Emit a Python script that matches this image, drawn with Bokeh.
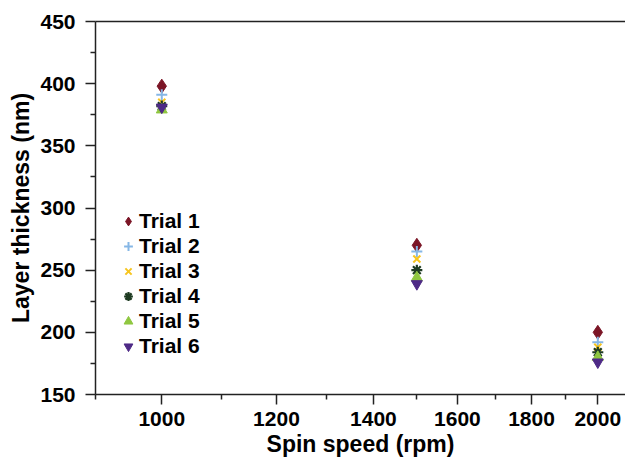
from bokeh.plotting import figure
from bokeh.models import FixedTicker, LogAxis, Range1d, Legend, LegendItem
from bokeh.embed import file_html
from bokeh.resources import INLINE

speeds = [1000, 1500, 2000]
trial1 = [398, 270, 200]
trial2 = [391, 265, 192]
trial3 = [385, 259, 188]
trial4 = [382, 250, 184]
trial5 = [379, 244, 180]
trial6 = [381, 239, 176]

x_major = [1000, 1200, 1400, 1600, 1800, 2000]
x_minor = [900, 1100, 1300, 1500, 1700, 1900]
y_major = [150, 200, 250, 300, 350, 400, 450]
y_minor = [175, 225, 275, 325, 375, 425]

FONT = "Liberation Sans"
TXT = "#000000"

p = figure(width=625, height=465, x_axis_type="log", output_backend="svg",
           toolbar_location=None, x_range=Range1d(900, 2090), y_range=Range1d(150, 450),
           min_border_left=95, min_border_right=0, min_border_top=21, min_border_bottom=71)
p.outline_line_color = None
p.grid.visible = False
p.background_fill_color = "white"
p.border_fill_color = "white"

xa = p.below[0]
ya = p.left[0]

# top frame line
top = LogAxis(ticker=FixedTicker(ticks=[]), major_label_text_font_size="0px",
              axis_line_color="#222222", axis_line_width=1.5,
              major_tick_out=0, minor_tick_out=0)
p.add_layout(top, "above")

xa.ticker = FixedTicker(ticks=x_major, minor_ticks=x_minor)
ya.ticker = FixedTicker(ticks=y_major, minor_ticks=y_minor)
for ax in (xa, ya):
    ax.axis_line_color = "#222222"
    ax.axis_line_width = 1.5
    ax.major_tick_line_color = "#222222"
    ax.minor_tick_line_color = "#222222"
    ax.major_tick_line_width = 1.5
    ax.minor_tick_line_width = 1.5
    ax.major_tick_in = 0
    ax.major_tick_out = 10
    ax.minor_tick_in = 0
    ax.minor_tick_out = 5
    ax.major_label_text_font = FONT
    ax.major_label_text_font_style = "bold"
    ax.major_label_text_font_size = "21px"
    ax.major_label_text_color = TXT
    ax.axis_label_text_font = FONT
    ax.axis_label_text_font_style = "bold"
    ax.axis_label_text_font_size = "23px"
    ax.axis_label_text_color = TXT
xa.major_label_standoff = 7
xa.axis_label_standoff = 2
ya.major_label_standoff = 10
ya.axis_label_standoff = 3
xa.axis_label = "Spin speed (rpm)"
ya.axis_label = "Layer thickness (nm)"
xa.major_label_overrides = {t: str(t) for t in x_major}

r1 = p.scatter(speeds, trial1, marker="diamond", size=14, color="#7b1526")
r2 = p.scatter(speeds, trial2, marker="cross", size=11, line_width=2, color="#86b7e6")
r3 = p.scatter(speeds, trial3, marker="x", size=10, line_width=2, color="#f7c51e")
r4 = p.scatter(speeds, trial4, marker="asterisk", size=11, line_width=2.2, color="#1e3b22")
r5 = p.scatter(speeds, trial5, marker="triangle", size=11, color="#8fc740")
r6 = p.scatter(speeds, trial6, marker="inverted_triangle", size=11, color="#4e2a86")

legend = Legend(items=[LegendItem(label=f"Trial {i+1}", renderers=[r])
                       for i, r in enumerate([r1, r2, r3, r4, r5, r6])],
                location=(22, 36), margin=0, padding=4, spacing=1,
                glyph_width=22, glyph_height=24, label_height=20, label_standoff=0,
                label_text_font=FONT, label_text_font_style="bold",
                label_text_font_size="21px", label_text_color=TXT,
                border_line_color=None, background_fill_alpha=0)
p.add_layout(legend, "center")

open("out.html", "w").write(file_html(p, INLINE))
